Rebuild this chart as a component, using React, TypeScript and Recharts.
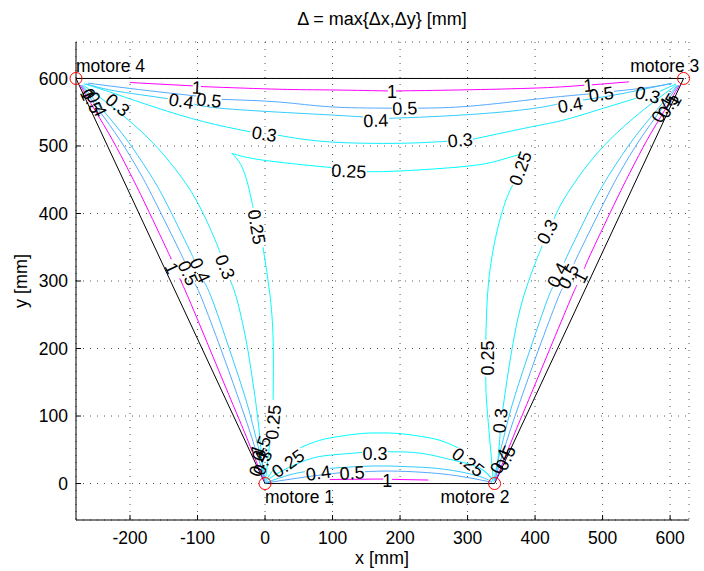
import React from 'react'
import { ComposedChart, Line, Scatter, XAxis, YAxis, CartesianGrid, ReferenceDot } from 'recharts'

type Pt = [number, number] | null

const FONT = '"Liberation Sans", Arial, Helvetica, sans-serif'

const xTicks = [-200, -100, 0, 100, 200, 300, 400, 500, 600]
const yTicks = [0, 100, 200, 300, 400, 500, 600]

// motor positions [mm]
const motorX = [0, 340, 620, -280]
const motorY = [0, 0, 600, 600]
const motorNames = ['motore 1', 'motore 2', 'motore 3', 'motore 4']
const motorTextX = [0, 260, 541, -280]
const motorTextY = [-29, -29, 610, 610]

// workspace outline
const edge: Pt[] = [[0, 0], [340, 0], [620, 600], [-280, 600], [0, 0]]

// contour lines (null = gap for an inline label)
const top1: Pt[] = [[-200, 594], [-107, 589], null, [-95, 588], [22, 584], [96, 583], [182, 581.5], null, [194, 581.5], [289, 583], [407, 586], [473, 590], null, [484, 590.5], [539, 595]]
const top05: Pt[] = [[-262, 593], [-215, 587], [-156, 580], [-102, 574], null, [-64, 569], [22, 565], [96, 558], [188, 556], null, [227, 556], [304, 559], [407, 570], [480, 577], null, [517, 581], [570, 587], [603, 593]]
const top04: Pt[] = [[-265, 592], [-230, 583], [-185, 576], [-144, 570], null, [-105, 562], [-67, 556], [22, 550], [96, 546], [145, 543], null, [184, 541], [259, 544], [348, 550], [407, 557], [433, 562], null, [471, 568], [526, 577], [570, 586], [600, 592]]
const top03: Pt[] = [[-268, 592], [-230, 580], [-165, 558], [-91, 536], [-22, 521], null, [19, 516], [96, 506], [200, 504], [270, 507], null, [308, 510], [393, 528], [441, 538], [492, 553], [541, 568], [550, 571], null, [585, 581], [609, 592]]

// 0.25 contour: right branch + top, then the corner and the left branch
const c025a: Pt[] = [[338, 6], [333, 64], [328, 124], [327, 158], null, [327, 213], [331, 297], [343, 371], [357, 420], [367, 442], null, [379, 488], [348, 479], [299, 470], [200, 463], [151, 462], null, [98, 468], [-3, 479], [-49, 489]]
const c025b: Pt[] = [[-49, 489], [-32, 464], [-20, 420], [-18, 408], null, [-3, 350], [7, 282], [12, 213], [12, 124], null, [7, 61], [5, 42], [1.5, 11]]

const left1: Pt[] = [[-273.7, 590], [-252, 553], [-226, 509], [-202.5, 464.5], [-180.3, 420], [-145.1, 346], [-139.8, 334], null, [-126.5, 304], [-112.2, 272], [-81.3, 198], [-50.5, 124], [-30, 75], [-9.5, 24], [-1.4, 4]]
const left05: Pt[] = [[-272.2, 590], [-246, 553], [-215, 509], [-187.7, 464.5], [-164, 420], [-127.3, 346], [-119, 328], null, [-104, 296], [-92.9, 272], [-65, 198], [-38.6, 124], [-21.9, 75], [-5.8, 24], [-0.6, 4]]
const left04: Pt[] = [[-270.8, 590], [-240, 553], [-204.6, 509], [-174.4, 464.5], [-148.5, 420], [-111.8, 346], [-105.7, 332.6], null, [-90.9, 300], [-78.1, 272], [-52.4, 198], [-28.3, 124], [-15.2, 75], [-2.8, 24], [0.1, 4]]
const left03: Pt[] = [[-269, 590], [-220, 553], [-170.4, 509], [-132, 464.5], [-102, 420], [-77, 368], [-66.4, 341.5], null, [-51.1, 300], [-41.5, 272], [-29.6, 220], [-20.7, 168], [-10.4, 94], [-4.9, 35], [-1.5, 5]]

const right1: Pt[] = [[613.7, 590], [592, 553], [566, 509], [542.5, 464.5], [520.3, 420], [485.1, 346], [472.7, 318], null, [462, 294], [452.2, 272], [421.3, 198], [390.5, 124], [370, 75], [349.5, 24], [341.4, 4]]
const right05: Pt[] = [[612.2, 590], [586, 553], [555, 509], [527.7, 464.5], [504, 420], [467.3, 346], [457.6, 325], null, [440.8, 289], [432.9, 272], [405, 198], [378.6, 124], [361.9, 75], [345.8, 24], [340.6, 4]]
const right04: Pt[] = [[610.8, 590], [580, 553], [544.6, 509], [514.4, 464.5], [488.5, 420], [451.8, 346], [443.2, 327], null, [426.8, 291], [418.1, 272], [392.4, 198], [368.3, 124], [355.2, 75], [342.8, 24], [339.9, 4]]
const right03: Pt[] = [[609, 590], [560, 553], [510.4, 509], [472, 464.5], [442, 420], [428, 392], null, [410.5, 352], [399.3, 324], [381.5, 272], [369.6, 220], [360.7, 168], [352.2, 110], null, [348.4, 76], [345, 35], [341.5, 5]]

const bot025: Pt[] = [[1.5, 5], [12, 20], [16, 24], null, [52, 53], [81, 64], [111, 70], [141, 74], [170, 75], [200, 74], [230, 70], [259, 64], [286, 53], null, [321, 21], [330, 14], [338, 5]]
const bot03: Pt[] = [[0, 2], [22, 17], [62, 35], [96, 42], [144, 46], null, [182, 47], [230, 45], [277, 35], [318, 23], [339, 2]]
const bot04: Pt[] = [[0, 1], [37, 13], [59, 17.5], null, [96, 22.5], [160, 26], [210, 25], [259, 22], [309, 13], [336, 3]]
const bot05: Pt[] = [[0, 0.7], [62, 10], [111, 16], null, [148, 17.5], [185, 18.5], [234, 16.6], [284, 11.6], [336, 2]]
const bot1: Pt[] = [[96, 6], [175, 6.7], null, [188, 6.2], [242, 5.2]]

// inline contour labels: [x, y, text]
const labels: [number, number, string][] = [
  [-101, 587, '1'], [-124, 567, '0.4'], [-83, 568, '0.5'], [-1, 518, '0.3'],
  [188, 581, '1'], [207, 556, '0.5'], [164, 538, '0.4'], [289, 509, '0.3'],
  [124, 463, '0.25'], [378, 467, '0.25'], [479, 590, '1'], [498, 577, '0.5'],
  [452, 561, '0.4'], [567, 576, '0.3'],
  [588, 553, '0.4'], [597, 560, '0.5'], [606, 568, '1'],
  [-263, 576, '1'], [-256, 567, '0.5'], [-249, 562, '0.4'], [-218, 561, '0.3'],
  [-138, 319, '1'], [-114, 312, '0.5'], [-96, 316, '0.4'], [-59, 321, '0.3'],
  [-12, 380, '0.25'], [12, 91, '0.25'],
  [-12, 50, '1'], [-6, 52, '0.5'], [-10, 29, '0.4'], [-4, 31, '0.3'],
  [34, 30, '0.25'], [163, 45, '0.3'], [79, 16, '0.4'], [129, 16, '0.5'],
  [181, 5, '1'], [301, 32, '0.25'],
  [329, 186, '0.25'], [348, 93, '0.3'], [348, 33, '0.4'], [356, 38, '0.5'],
  [418, 373, '0.3'], [433, 309, '0.4'], [449, 307, '0.5'], [467, 306, '1'],
]
const labelAngles = [
  3, 9, 6, 9,
  0, -2, -2, -5,
  3, -70, -5, -8,
  -10, 15,
  -60, -60, -60,
  65, 65, 65, 40,
  65, 65, 65, 68,
  80, -85,
  -70, -70, -70, -70,
  -35, 0, -8, -4,
  0, 38,
  -90, -85, -65, -65,
  -62, -62, -62, -62,
]

const C025 = '#00ffff'
const C03 = '#11eeff'
const C04 = '#33ccff'
const C05 = '#55aaff'
const C1 = '#ff00ff'

const series = [
  { pts: edge, color: '#000000', curve: 'linear' },
  { pts: c025a, color: C025, curve: 'natural' },
  { pts: c025b, color: C025, curve: 'natural' },
  { pts: bot025, color: C025, curve: 'natural' },
  { pts: top03, color: C03, curve: 'natural' },
  { pts: left03, color: C03, curve: 'natural' },
  { pts: right03, color: C03, curve: 'natural' },
  { pts: bot03, color: C03, curve: 'natural' },
  { pts: top04, color: C04, curve: 'natural' },
  { pts: left04, color: C04, curve: 'natural' },
  { pts: right04, color: C04, curve: 'natural' },
  { pts: bot04, color: C04, curve: 'natural' },
  { pts: top05, color: C05, curve: 'natural' },
  { pts: left05, color: C05, curve: 'natural' },
  { pts: right05, color: C05, curve: 'natural' },
  { pts: bot05, color: C05, curve: 'natural' },
  { pts: top1, color: C1, curve: 'natural' },
  { pts: left1, color: C1, curve: 'natural' },
  { pts: right1, color: C1, curve: 'natural' },
  { pts: bot1, color: C1, curve: 'natural' },
]

function toRows(pts: Pt[]) {
  let lastX = 0
  return pts.map((p) => {
    if (p === null) return { x: lastX, y: null }
    lastX = p[0]
    return { x: p[0], y: p[1] }
  })
}

const labelRows = labels.map((l, i) => ({ x: l[0], y: l[1], t: l[2], a: labelAngles[i] }))

const XTick = (props: any) => {
  const { x, y, payload } = props
  return (
    <g>
      <line x1={x} x2={x} y1={y} y2={y - 5} stroke="#000" />
      <text x={x} y={y + 23.5} textAnchor="middle" fontSize={17.5} fontFamily={FONT} fill="#000">
        {payload.value}
      </text>
    </g>
  )
}

const YTick = (props: any) => {
  const { x, y, payload } = props
  return (
    <g>
      <line x1={x} x2={x + 5} y1={y} y2={y} stroke="#000" />
      <text x={x - 8} y={y} dy="0.36em" textAnchor="end" fontSize={17.5} fontFamily={FONT} fill="#000">
        {payload.value}
      </text>
    </g>
  )
}

const renderLabel = (props: any) => {
  const { cx, cy, payload } = props
  return (
    <text
      x={cx}
      y={cy}
      dy="0.36em"
      textAnchor="middle"
      fontSize={18}
      fontFamily={FONT}
      fill="#000"
      transform={`rotate(${payload.a} ${cx} ${cy})`}
    >
      {payload.t}
    </text>
  )
}

const motorText = (name: string) => (props: any) => (
  <text x={props.cx} y={props.cy} fontSize={17.5} fontFamily={FONT} fill="#000">
    {name}
  </text>
)

export default function App() {
  return (
    <div style={{ position: 'absolute', left: 0, top: 0, width: 704, height: 571, background: '#fff', fontFamily: FONT }}>
      <ComposedChart width={704} height={571} margin={{ top: 42, right: 15, bottom: 0, left: 0 }}>
        <CartesianGrid strokeDasharray="1 6" stroke="#555" />
        <XAxis
          type="number"
          dataKey="x"
          domain={[-280, 628]}
          ticks={xTicks}
          interval={0}
          allowDataOverflow
          height={51}
          tickSize={0}
          tickMargin={0}
          tickLine={false}
          tick={<XTick />}
          axisLine={{ stroke: '#000' }}
        />
        <YAxis
          type="number"
          dataKey="y"
          domain={[-54, 654]}
          ticks={yTicks}
          interval={0}
          allowDataOverflow
          width={76}
          tickSize={0}
          tickMargin={0}
          tickLine={false}
          tick={<YTick />}
          axisLine={{ stroke: '#000' }}
        />
        {series.map((s, i) => (
          <Line
            key={i}
            data={toRows(s.pts)}
            dataKey="y"
            type={s.curve as any}
            stroke={s.color}
            strokeWidth={1}
            dot={false}
            activeDot={false}
            connectNulls={false}
            isAnimationActive={false}
          />
        ))}
        <Scatter data={labelRows} dataKey="y" shape={renderLabel} isAnimationActive={false} />
        {motorX.map((mx, i) => (
          <ReferenceDot key={'m' + i} x={mx} y={motorY[i]} r={6} fill="none" stroke="#ff0000" strokeWidth={1} />
        ))}
        {motorNames.map((n, i) => (
          <ReferenceDot key={'t' + i} x={motorTextX[i]} y={motorTextY[i]} r={0} shape={motorText(n)} />
        ))}
      </ComposedChart>
      <svg width={704} height={571} style={{ position: 'absolute', left: 0, top: 0, pointerEvents: 'none' }}>
        <text x={382} y={25} textAnchor="middle" fontSize={18} fontFamily={FONT} fill="#000">
          Δ = max{'{'}Δx,Δy{'}'} [mm]
        </text>
        <text x={382} y={564} textAnchor="middle" fontSize={18} fontFamily={FONT} fill="#000">
          x [mm]
        </text>
        <text x={27} y={281} textAnchor="middle" fontSize={18} fontFamily={FONT} fill="#000" transform="rotate(-90 27 281)">
          y [mm]
        </text>
      </svg>
    </div>
  )
}
